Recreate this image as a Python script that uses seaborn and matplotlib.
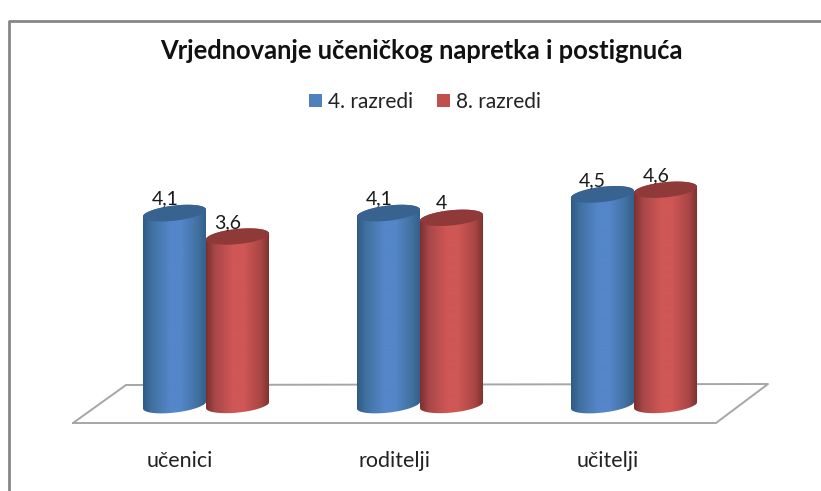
import numpy as np
import pandas as pd
import matplotlib
matplotlib.use("Agg")
import matplotlib.pyplot as plt
from matplotlib.colors import LinearSegmentedColormap
from matplotlib.lines import Line2D
from matplotlib.patches import Polygon
from matplotlib.transforms import ScaledTranslation
import seaborn as sns

title = "Vrjednovanje učeničkog napretka i postignuća"
categories = ["učenici", "roditelji", "učitelji"]
series_names = ["4. razredi", "8. razredi"]
grade4 = [4.1, 4.1, 4.5]
grade8 = [3.6, 4.0, 4.6]
labels4 = ["4,1", "4,1", "4,5"]
labels8 = ["3,6", "4", "4,6"]

W, H = 821, 491
PX_PER_UNIT = 46.8
BASE_PX = 405
AX_BOTTOM_PX = 441
GROUP0_PX = 206
GROUP_STEP_PX = 214

sns.set_style("white")
plt.rcParams["font.family"] = ["Lato", "DejaVu Sans"]

df = pd.DataFrame({
    "kategorija": categories * 2,
    "razred": [series_names[0]] * 3 + [series_names[1]] * 3,
    "ocjena": grade4 + grade8,
})

fig = plt.figure(figsize=(W / 100, H / 100), dpi=100, facecolor="white")
ax = fig.add_axes([0, (H - AX_BOTTOM_PX) / H, 1, AX_BOTTOM_PX / H])
ax.patch.set_alpha(0)

sns.barplot(data=df, x="kategorija", y="ocjena", hue="razred",
            palette=["#4f81bd", "#c0504d"], width=0.589, gap=0,
            saturation=1, ax=ax, linewidth=0)

xlim = (-GROUP0_PX / GROUP_STEP_PX, (W - GROUP0_PX) / GROUP_STEP_PX)
ylim = ((BASE_PX - AX_BOTTOM_PX) / PX_PER_UNIT, BASE_PX / PX_PER_UNIT)

ramps = [
    LinearSegmentedColormap.from_list("b", [(0, "#2f5a87"), (.14, "#41719f"), (.42, "#5486c9"),
                                            (.6, "#5486c9"), (.86, "#41719f"), (1, "#325d8a")]),
    LinearSegmentedColormap.from_list("r", [(0, "#7a302e"), (.14, "#a8474a"), (.42, "#cf5755"),
                                            (.6, "#cf5755"), (.86, "#a84644"), (1, "#7a302e")]),
]
cap_cols = ["#38628f", "#8f3a38"]
tilt_px = [3.5, 3.0]
minor_px = 7.6
grad = np.linspace(0, 1, 256).reshape(1, -1)


def ring(cx, cy, a, tilt, t):
    return np.column_stack([cx + a * np.cos(t),
                            cy + (tilt * np.cos(t) + minor_px * np.sin(t)) / PX_PER_UNIT])


for s, cont in enumerate(ax.containers):
    labs = (labels4, labels8)[s]
    for rect, lab in zip(cont.patches, labs):
        l, wd, h = rect.get_x(), rect.get_width(), rect.get_height()
        cx, a = l + wd / 2, wd / 2
        low = ring(cx, 0, a, tilt_px[s], np.linspace(np.pi, 2 * np.pi, 60))
        up = ring(cx, h, a, tilt_px[s], np.linspace(0, np.pi, 60))
        body = Polygon(np.vstack([low, up]), closed=True, transform=ax.transData)
        rect.set_zorder(3 + s)
        rect.set_clip_path(body)
        im = ax.imshow(grad, extent=(l, l + wd, ylim[0], ylim[1]), aspect="auto",
                       cmap=ramps[s], vmin=0, vmax=1, zorder=3 + s, interpolation="bilinear")
        im.set_clip_path(body)
        cap = ring(cx, h, a, tilt_px[s], np.linspace(0, 2 * np.pi, 120))
        ax.add_patch(Polygon(cap, closed=True, fc=cap_cols[s], ec="none", zorder=3 + s))
        ax.annotate(lab, (cx, h), xytext=(-7, 10), textcoords="offset points",
                    ha="center", va="center", fontsize=14, color="#1a1a1a", zorder=10)

ax.set_xlim(*xlim)
ax.set_ylim(*ylim)
ax.set_xticks(range(len(categories)), categories)
ax.set_yticks([])
ax.set_xlabel("")
ax.set_ylabel("")
sns.despine(ax=ax, left=True, bottom=True)
ax.tick_params(axis="x", length=0, pad=7, labelsize=15.5, labelcolor="#222222")
shift = ScaledTranslation(-26 / 100, 0, fig.dpi_scale_trans)
for t in ax.get_xticklabels():
    t.set_transform(t.get_transform() + shift)

# floor plane and outer frame, in figure pixels
tf = fig.transFigure
floor_px = [(73, 423), (126, 385), (768, 384), (716, 423), (73, 423)]
fig.add_artist(Line2D([p[0] / W for p in floor_px], [1 - p[1] / H for p in floor_px],
                      transform=tf, color="#a6a6a6", lw=1.4, zorder=0.5))
fig.add_artist(Line2D([9 / W, 9 / W, 1], [0, 1 - 21 / H, 1 - 21 / H],
                      transform=tf, color="#868686", lw=2, zorder=0.5))
ax.set_zorder(2)

fig.text(421 / W, 1 - 51 / H, title, ha="center", va="center",
         fontsize=18.4, fontweight="bold", color="#111111")

sns.move_legend(ax, "center", bbox_to_anchor=(425 / W, 1 - 102 / H),
                bbox_transform=tf, ncols=2, frameon=False, title=None,
                fontsize=15, handlelength=0.62, handleheight=0.62,
                handletextpad=0.3, columnspacing=1.15, labelcolor="#222222")

fig.savefig("out.png", dpi=100, facecolor="white")
